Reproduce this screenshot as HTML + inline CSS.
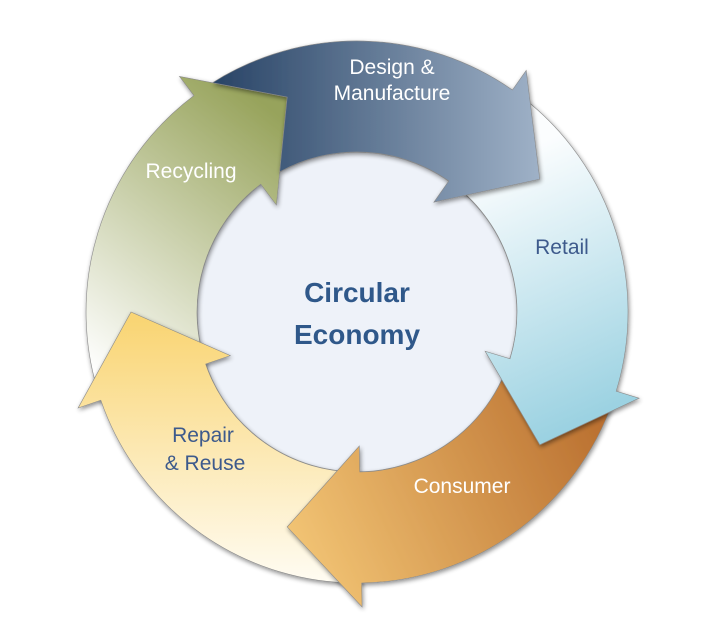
<!DOCTYPE html>
<html><head><meta charset="utf-8"><style>
html,body{margin:0;padding:0;background:#fff;}
svg{display:block;}
text{font-family:"Liberation Sans","DejaVu Sans",sans-serif;}
</style></head><body>
<svg id="s" width="726" height="635" viewBox="0 0 726 635" xmlns="http://www.w3.org/2000/svg">
<defs>
<linearGradient id="gD" x1="220" y1="0" x2="560" y2="0" gradientUnits="userSpaceOnUse"><stop offset="0" stop-color="#2b4668"/><stop offset="1" stop-color="#a6b8cd"/></linearGradient>
<linearGradient id="gR" x1="480" y1="170" x2="600" y2="440" gradientUnits="userSpaceOnUse"><stop offset="0" stop-color="#fbfdfe"/><stop offset="1" stop-color="#93cedf"/></linearGradient>
<linearGradient id="gC" x1="600" y1="420" x2="300" y2="560" gradientUnits="userSpaceOnUse"><stop offset="0" stop-color="#ba7030"/><stop offset="1" stop-color="#f2c474"/></linearGradient>
<linearGradient id="gP" x1="0" y1="320" x2="0" y2="590" gradientUnits="userSpaceOnUse"><stop offset="0" stop-color="#f9d574"/><stop offset="1" stop-color="#fffdf6"/></linearGradient>
<linearGradient id="gY" x1="285" y1="120" x2="90" y2="370" gradientUnits="userSpaceOnUse"><stop offset="0" stop-color="#97a35b"/><stop offset="1" stop-color="#ffffff"/></linearGradient>
<filter id="sh" x="-20%" y="-20%" width="140%" height="140%"><feGaussianBlur in="SourceAlpha" stdDeviation="2.5"/><feOffset dx="1" dy="2"/><feComponentTransfer><feFuncA type="linear" slope="0.45"/></feComponentTransfer><feMerge><feMergeNode/><feMergeNode in="SourceGraphic"/></feMerge></filter>
</defs>
<circle cx="357" cy="312" r="160" fill="#eef2f9" stroke="#9a9a9a" stroke-width="1" filter="url(#sh)"/>
<g id="arrows"></g>
<text x="357" y="302" text-anchor="middle" font-size="28" font-weight="bold" fill="#2f588a">Circular</text>
<text x="357" y="344" text-anchor="middle" font-size="28" font-weight="bold" fill="#2f588a">Economy</text>
<text x="392" y="74" text-anchor="middle" font-size="21" fill="#fff">Design &amp;</text>
<text x="392" y="100" text-anchor="middle" font-size="21" fill="#fff">Manufacture</text>
<text x="562" y="254" text-anchor="middle" font-size="21" fill="#3d5a8c">Retail</text>
<text x="462" y="493" text-anchor="middle" font-size="21" fill="#fff">Consumer</text>
<text x="203" y="442" text-anchor="middle" font-size="21" fill="#3d5a8c">Repair</text>
<text x="205" y="470" text-anchor="middle" font-size="21" fill="#3d5a8c">&amp; Reuse</text>
<text x="191" y="178" text-anchor="middle" font-size="21" fill="#fff">Recycling</text>
</svg>
<script>
(function(){
var cx=357,cy=312,Ro=271,Ri=160,Wo=295,Wi=134,Tr=226,TO=19;
function P(a,r){var t=a*Math.PI/180;return [cx+r*Math.cos(t),cy+r*Math.sin(t)];}
function f(p){return p[0].toFixed(1)+","+p[1].toFixed(1);}
function body(a0,ab){
  var o0=P(a0,Ro),o1=P(ab,Ro),i1=P(ab,Ri),i0=P(a0,Ri);
  var large=(ab-a0)>180?1:0;
  var s="M"+f(o0)+" A"+Ro+","+Ro+" 0 "+large+" 1 "+f(o1);
  s+=" L"+f(P(ab,Wo))+" L"+f(P(ab+TO,Tr))+" L"+f(P(ab,Wi))+" L"+f(i1);
  s+=" A"+Ri+","+Ri+" 0 "+large+" 0 "+f(i0)+" Z";
  return s;
}
function cross(A,B,R){var ins=Math.hypot(A[0]-cx,A[1]-cy)<R;var lo=0,hi=1;for(var k=0;k<40;k++){var m=(lo+hi)/2;var x=A[0]+(B[0]-A[0])*m,y=A[1]+(B[1]-A[1])*m;var d=Math.hypot(x-cx,y-cy);
 if((d<R)===ins)lo=m;else hi=m;}var m=(lo+hi)/2;return [A[0]+(B[0]-A[0])*m,A[1]+(B[1]-A[1])*m];}
var bD=-55,bR=17,bC=89,bP=161,bY=233;
var g=document.getElementById("arrows");
function add(d,fill){var e=document.createElementNS("http://www.w3.org/2000/svg","path");e.setAttribute("d",d);e.setAttribute("fill",fill);e.setAttribute("stroke","#8a8a8a");e.setAttribute("stroke-width","0.6");e.setAttribute("filter","url(#sh)");g.appendChild(e);}
add(body(bP,bY),"url(#gY)");
add(body(bC,bP),"url(#gP)");
add(body(bR,bC),"url(#gC)");
add(body(bD,bR),"url(#gR)");
var tip=P(bY+TO,Tr),wo=P(bY,Wo),wi=P(bY,Wi);
var co=cross(tip,wo,Ro),ci=cross(tip,wi,Ri);
var o1=P(bD,Ro),i1=P(bD,Ri);
var d="M"+f(tip)+" L"+f(co)+" A"+Ro+","+Ro+" 0 0 1 "+f(o1)+" L"+f(P(bD,Wo))+" L"+f(P(bD+TO,Tr))+" L"+f(P(bD,Wi))+" L"+f(i1)+" A"+Ri+","+Ri+" 0 0 0 "+f(ci)+" Z";
add(d,"url(#gD)");
})();
</script>
</body></html>
